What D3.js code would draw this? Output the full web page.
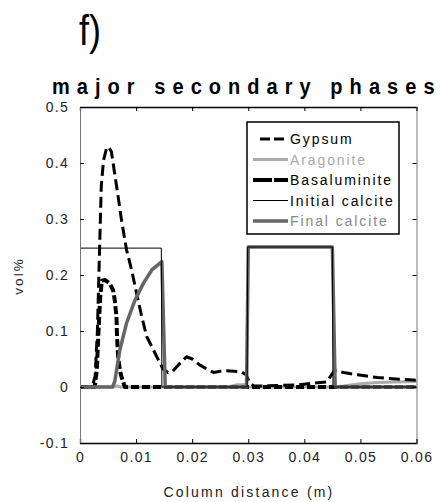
<!DOCTYPE html>
<html>
<head>
<meta charset="utf-8">
<script src="https://cdn.jsdelivr.net/npm/d3@7"></script>
<style>
  body { margin: 0; background: #fff; }
  svg { display: block; font-family: "Liberation Sans", Arial, sans-serif; }
</style>
</head>
<body>
<svg id="chart" width="441" height="502"></svg>
<script>
// data (x in m, y in vol%)
const gypsumX = [0, 0.0022, 0.0027, 0.0031, 0.0035, 0.0038, 0.0042, 0.0047, 0.0051, 0.0056, 0.0062, 0.0068, 0.0074,
  0.0083, 0.0092, 0.0101, 0.0110, 0.0119, 0.0131, 0.0143, 0.0148, 0.0157, 0.0165, 0.0175, 0.0190, 0.0200, 0.0214,
  0.0226, 0.0238, 0.0250, 0.0261, 0.0275, 0.0288, 0.0296, 0.0303, 0.0310, 0.0330, 0.0360, 0.0390, 0.0415, 0.0440,
  0.0446, 0.0452, 0.0457, 0.0470, 0.0481, 0.0495, 0.0511, 0.0530, 0.0547, 0.0570, 0.0594, 0.0600]
const gypsumY = [0, 0, 0.02, 0.1, 0.25, 0.36, 0.405, 0.425, 0.429, 0.42, 0.38, 0.34, 0.298,
  0.245, 0.209, 0.167, 0.126, 0.09, 0.066, 0.042, 0.032, 0.026, 0.028, 0.039, 0.054, 0.05, 0.039,
  0.032, 0.026, 0.028, 0.029, 0.028, 0.027, 0.022, 0.007, 0.002, 0.002, 0.003, 0.004, 0.007, 0.009,
  0.018, 0.027, 0.029, 0.026, 0.024, 0.022, 0.0196, 0.017, 0.0155, 0.014, 0.0125, 0.012]

const aragoniteX = [0, 0.0060, 0.0066, 0.0072, 0.0150, 0.0265, 0.0280, 0.0295, 0.0300, 0.0450, 0.0470, 0.0500, 0.0530, 0.0560, 0.0600]
const aragoniteY = [0, 0, 0.002, 0, 0, 0, 0.004, 0.004, 0, 0, 0.002, 0.006, 0.008, 0.009, 0.01]

const basaluminiteX = [0, 0.0026, 0.0030, 0.0033, 0.0036, 0.0039, 0.0045, 0.0053, 0.0059, 0.0062, 0.0065, 0.0066, 0.0068, 0.0071, 0.0074, 0.0080, 0.0600]
const basaluminiteY = [0, 0, 0.03, 0.1, 0.16, 0.19, 0.191, 0.185, 0.173, 0.155, 0.126, 0.09, 0.054, 0.03, 0.018, 0, 0]

const initialX = [0, 0.0145, 0.0146, 0.0298, 0.0299, 0.0450, 0.0451, 0.0600]
const initialY = [0.248, 0.248, 0, 0, 0.25, 0.25, 0, 0]

const finalX = [0, 0.0058, 0.0062, 0.0071, 0.0083, 0.0098, 0.0113, 0.0128, 0.0146, 0.0152, 0.0297, 0.0300, 0.0450, 0.0455, 0.0600]
const finalY = [0, 0, 0.01, 0.066, 0.114, 0.155, 0.185, 0.209, 0.224, 0, 0, 0.25, 0.25, 0, 0]

const xTicks = [0, 0.01, 0.02, 0.03, 0.04, 0.05, 0.06]
const xTickLabels = ["0", "0.01", "0.02", "0.03", "0.04", "0.05", "0.06"]
const yTicks = [-0.1, 0, 0.1, 0.2, 0.3, 0.4, 0.5]
const yTickLabels = ["-0.1", "0", "0.1", "0.2", "0.3", "0.4", "0.5"]

const seriesNames = ["Gypsum", "Aragonite", "Basaluminite", "Initial calcite", "Final calcite"]

// drawing styles
const styles = {
  "Gypsum":          {color: "#000", width: 3,   dash: "11,5", text: "#000", legendDash: "10,4"},
  "Aragonite":       {color: "#aaa", width: 3,   dash: null,   text: "#aaa"},
  "Basaluminite":    {color: "#000", width: 4,   dash: "8,3",  text: "#000", legendDash: "19,2"},
  "Initial calcite": {color: "#000", width: 1,   dash: null,   text: "#000"},
  "Final calcite":   {color: "#666", width: 3.5, dash: null,   text: "#888"}
}

const series = [
  {name: "Aragonite", xs: aragoniteX, ys: aragoniteY},
  {name: "Basaluminite", xs: basaluminiteX, ys: basaluminiteY},
  {name: "Gypsum", xs: gypsumX, ys: gypsumY},
  {name: "Final calcite", xs: finalX, ys: finalY},
  {name: "Initial calcite", xs: initialX, ys: initialY}
]

const svg = d3.select('#chart')
const mLeft = 80, mRight = 416.5, mTop = 107, mBottom = 443

const x = d3.scaleLinear().domain([0, 0.06]).range([mLeft, mRight])
const y = d3.scaleLinear().domain([-0.1, 0.5]).range([mBottom, mTop])

// panel label and title (the original type is a bit stretched vertically)
svg.append('text')
  .attr('transform', 'translate(79,45) scale(0.9,1.05)')
  .attr('font-size', 40)
  .text('f)')

svg.append('text')
  .attr('transform', 'translate(52,94) scale(1,1.14)')
  .attr('font-size', 20).attr('font-weight', 'bold')
  .attr('letter-spacing', 7.05)
  .text('major secondary phases')

// lines
const line = d3.line()
  .x(d => x(d[0]))
  .y(d => y(d[1]))

const plot = svg.append('g')
plot.selectAll('path')
  .data(series)
  .join('path')
  .attr('d', s => line(d3.zip(s.xs, s.ys)))
  .attr('fill', 'none')
  .attr('stroke', s => styles[s.name].color)
  .attr('stroke-width', s => styles[s.name].width)
  .attr('stroke-dasharray', s => styles[s.name].dash)
  .attr('stroke-linejoin', 'round')

// axes, ticks pointing inward
const tickStyle = g => {
  g.selectAll('.tick line').attr('stroke', '#000')
  g.selectAll('.tick text')
    .attr('font-size', 14)
    .attr('letter-spacing', 1.3)
    .attr('fill', '#222')
    .attr('font-family', '"Liberation Sans", Arial, sans-serif')
}

svg.append('g')
  .attr('transform', `translate(0,${mBottom})`)
  .call(d3.axisBottom(x).tickValues(xTicks).tickSize(-4).tickPadding(9)
    .tickFormat((d, i) => xTickLabels[i]))
  .call(tickStyle)
  .call(g => g.select('.domain').attr('stroke', '#000').attr('stroke-width', 1.3))

svg.append('g')
  .attr('transform', `translate(0,${mTop})`)
  .call(d3.axisTop(x).tickValues(xTicks).tickSize(-4).tickFormat(''))
  .call(tickStyle)
  .call(g => g.select('.domain').attr('stroke', '#000').attr('stroke-width', 1.3))

svg.append('g')
  .attr('transform', `translate(${mLeft},0)`)
  .call(d3.axisLeft(y).tickValues(yTicks).tickSize(-4).tickPadding(11)
    .tickFormat((d, i) => yTickLabels[i]))
  .call(tickStyle)
  .call(g => g.select('.domain').attr('stroke', '#777'))

svg.append('g')
  .attr('transform', `translate(${mRight},0)`)
  .call(d3.axisRight(y).tickValues(yTicks).tickSize(-4).tickFormat(''))
  .call(tickStyle)
  .call(g => g.select('.domain').attr('stroke', '#777'))

// axis titles
svg.append('text')
  .attr('x', 249).attr('y', 497)
  .attr('text-anchor', 'middle')
  .attr('font-size', 14).attr('letter-spacing', 2.2)
  .attr('fill', '#222')
  .text('Column distance (m)')

svg.append('text')
  .attr('transform', 'translate(23,276) rotate(-90)')
  .attr('text-anchor', 'middle')
  .attr('font-size', 13.5).attr('letter-spacing', 2)
  .attr('fill', '#222')
  .text('vol%')

// legend
const legend = svg.append('g')
legend.append('rect')
  .attr('x', 247).attr('y', 122)
  .attr('width', 152).attr('height', 112)
  .attr('fill', '#fff')
  .attr('stroke', '#000').attr('stroke-width', 1.5)

const rowY = d3.scalePoint().domain(seriesNames).range([139, 221])

const rows = legend.selectAll('g.row')
  .data(seriesNames)
  .join('g')
  .attr('class', 'row')
  .attr('transform', d => `translate(0,${rowY(d)})`)

rows.append('line')
  .attr('x1', d => d === 'Gypsum' ? 260 : 253)
  .attr('x2', d => d === 'Gypsum' ? 285 : 288)
  .attr('stroke', d => styles[d].color)
  .attr('stroke-width', d => styles[d].width)
  .attr('stroke-dasharray', d => styles[d].legendDash || null)

rows.append('text')
  .attr('x', 290).attr('y', 5)
  .attr('font-size', 14).attr('letter-spacing', 1.9)
  .attr('fill', d => styles[d].text)
  .text(d => d)
</script>
</body>
</html>
